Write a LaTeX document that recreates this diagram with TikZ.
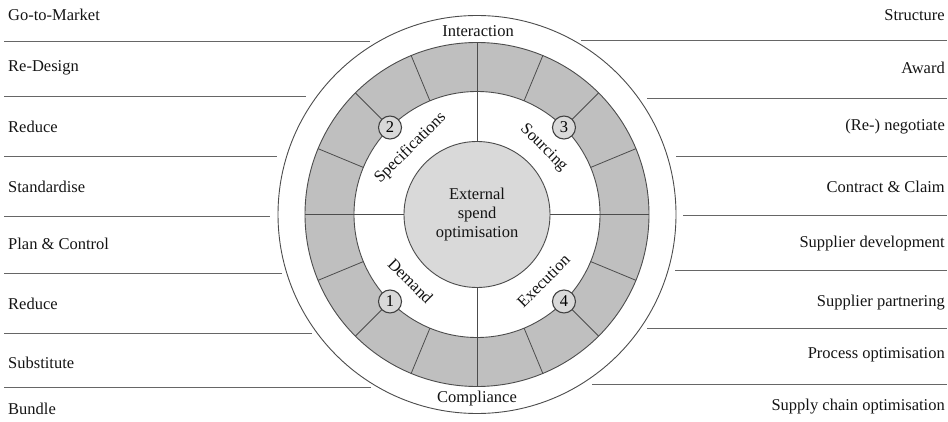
\documentclass[tikz,border=0pt]{standalone}
\usepackage{fontspec}
\setmainfont{Liberation Serif}
\usetikzlibrary{calc}
\begin{document}
\begin{tikzpicture}[x=1pt,y=1pt,
  txt/.style={font=\fontsize{16.5}{19}\selectfont, inner sep=0pt, text=black!92},
  leftlbl/.style={txt, anchor=west},
  rightlbl/.style={txt, anchor=east},
  rule/.style={draw=black!60, line width=0.9pt},
  edge/.style={draw=black!70, line width=0.9pt},
  ringline/.style={draw=black!70, line width=0.8pt},
  numdot/.style={circle, draw=black!75, line width=1.1pt, fill=black!15,
    minimum size=23pt, inner sep=0pt, font=\fontsize{16.5}{19}\selectfont}]
\useasboundingbox (0,0) rectangle (948,421);

\coordinate (C) at (477,206.5);

% outer white circle
\draw[edge, fill=white] (C) circle (199);
% grey ring with white inner disc
\fill[black!25] (C) circle (172);
\draw[edge] (C) circle (172);
\fill[white] (C) circle (123);
\draw[edge] (C) circle (123);

% ring segment dividers, every 22.5 degrees
\foreach \a in {22.5,45,67.5,112.5,135,157.5,202.5,225,247.5,292.5,315,337.5}
  \draw[ringline] ($(C)+(\a:123)$) -- ($(C)+(\a:172)$);
% quadrant dividers across ring and white annulus
\foreach \a in {0,90,180,270}
  \draw[ringline] ($(C)+(\a:73)$) -- ($(C)+(\a:172)$);

% centre disc
\node[circle, draw=black!70, line width=0.9pt, fill=black!15, minimum size=146pt,
  inner sep=0pt, txt, align=center] (core) at (C) {External\\spend\\optimisation};

% phase numbers on the inner edge of the ring
\node[numdot] (n1) at ($(C)+(225:123)$) {1};
\node[numdot] (n2) at ($(C)+(135:123)$) {2};
\node[numdot] (n3) at ($(C)+(45:123)$) {3};
\node[numdot] (n4) at ($(C)+(315:123)$) {4};

% phase names
\node[txt, rotate=45]  (spec) at ($(C)+(135:94)$) {Specifications};
\node[txt, rotate=-45] (sour) at ($(C)+(45:94)$) {Sourcing};
\node[txt, rotate=-45] (dema) at ($(C)+(225:94)$) {Demand};
\node[txt, rotate=45]  (exec) at ($(C)+(315:94)$) {Execution};

% outer ring names
\node[txt] (inter) at (478,389.5) {Interaction};
\node[txt] (compl) at (477,22) {Compliance};

% left list
\node[leftlbl] (l1) at (8,406) {Go-to-Market};
\node[leftlbl] (l2) at (8,353) {Re-Design};
\node[leftlbl] (l3) at (8,294) {Reduce};
\node[leftlbl] (l4) at (8,234) {Standardise};
\node[leftlbl] (l5) at (8,177) {Plan \& Control};
\node[leftlbl] (l6) at (8,117) {Reduce};
\node[leftlbl] (l7) at (8,58) {Substitute};
\node[leftlbl] (l8) at (8,12) {Bundle};

\draw[rule] (4,380) -- (370,380);
\draw[rule] (4,325) -- (306,325);
\draw[rule] (4,264.3) -- (277,264.3);
\draw[rule] (4,205) -- (270,205);
\draw[rule] (4,147.7) -- (282,147.7);
\draw[rule] (4,87.7) -- (312,87.7);
\draw[rule] (4,34) -- (371,34);

% right list
\node[rightlbl] (r1) at (945,406) {Structure};
\node[rightlbl] (r2) at (945,353) {Award};
\node[rightlbl] (r3) at (945,294) {(Re-) negotiate};
\node[rightlbl] (r4) at (945,234) {Contract \& Claim};
\node[rightlbl] (r5) at (945,177) {Supplier development};
\node[rightlbl] (r6) at (945,118) {Supplier partnering};
\node[rightlbl] (r7) at (945,66) {Process optimisation};
\node[rightlbl] (r8) at (945,14) {Supply chain optimisation};

\draw[rule] (581,380.5) -- (947,380.5);
\draw[rule] (647,322.7) -- (947,322.7);
\draw[rule] (676,265) -- (947,265);
\draw[rule] (683,206) -- (947,206);
\draw[rule] (675,151) -- (947,151);
\draw[rule] (647,92.7) -- (947,92.7);
\draw[rule] (592,37) -- (947,37);
\end{tikzpicture}
\end{document}
